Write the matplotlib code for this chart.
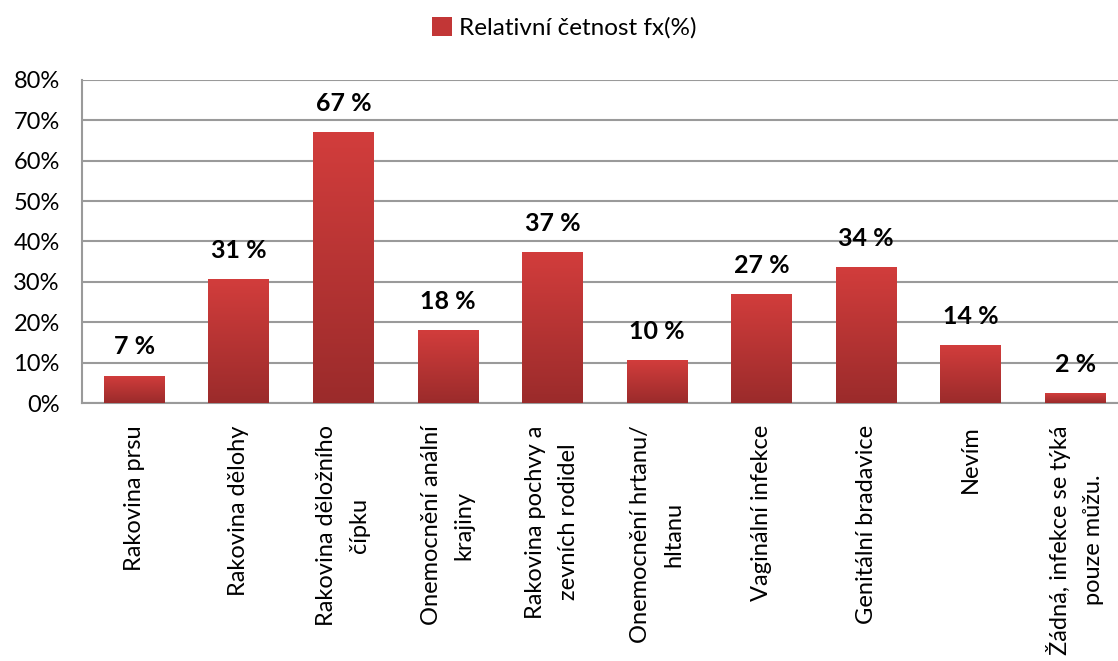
import numpy as np
import matplotlib.pyplot as plt
from matplotlib.colors import LinearSegmentedColormap
from matplotlib.patches import Patch
from matplotlib.ticker import FuncFormatter

plt.rcParams['font.family'] = ['Lato', 'DejaVu Sans']

categories = ['Rakovina prsu', 'Rakovina dělohy', 'Rakovina děložního\nčípku',
              'Onemocnění anální\nkrajiny', 'Rakovina pochvy a\nzevních rodidel',
              'Onemocnění hrtanu/\nhltanu', 'Vaginální infekce', 'Genitální bradavice',
              'Nevím', 'Žádná, infekce se týká\npouze můžu.']
values = [6.8, 30.7, 67.1, 18.0, 37.4, 10.6, 27.0, 33.7, 14.3, 2.4]
labels = ['7 %', '31 %', '67 %', '18 %', '37 %', '10 %', '27 %', '34 %', '14 %', '2 %']

fig = plt.figure(figsize=(11.18, 6.61), dpi=100)
ax = fig.add_axes([82/1118, 258/661, 1036/1118, 323/661])

x = np.arange(len(values))
w = 0.58
cmap = LinearSegmentedColormap.from_list('r', ['#9b2b2b', '#d23d3c'])
grad = np.linspace(0, 1, 256).reshape(-1, 1)
bars = ax.bar(x, values, w, color='none', edgecolor='none', zorder=3)
for b in bars:
    x0, y0 = b.get_x(), b.get_y()
    im = ax.imshow(grad, cmap=cmap, origin='lower', aspect='auto', zorder=3,
                   extent=[x0, x0 + b.get_width(), y0, y0 + b.get_height()])
    im.set_clip_path(b)

for xi, v, t in zip(x, values, labels):
    ax.text(xi, v + 4.3, t, ha='center', va='bottom', fontsize=18, fontweight='bold')

ax.set_xlim(-0.5, 9.41)
ax.set_ylim(0, 80)
ax.set_yticks(np.arange(0, 81, 10))
ax.yaxis.set_major_formatter(FuncFormatter(lambda v, p: f'{v:.0f}%'))
ax.grid(axis='y', color='#9a9a9a', linewidth=1.5, zorder=0)
for s in ['top', 'right']:
    ax.spines[s].set_visible(False)
ax.spines['left'].set_color('#9a9a9a')
ax.spines['left'].set_linewidth(1.5)
ax.spines['bottom'].set_color('#9a9a9a')
ax.spines['bottom'].set_linewidth(1.5)
ax.tick_params(axis='y', length=0, labelsize=17, pad=16)
ax.tick_params(axis='x', length=0, pad=16)
ax.set_xticks(x)
ax.set_xticklabels(categories)
for t in ax.get_xticklabels():
    t.set_rotation(90)
    t.set_fontsize(17)
    t.set_ha('center')
    t.set_va('top')
    t.set_multialignment('center')
    t.set_linespacing(1.7)

leg_handle = Patch(facecolor='#c23636', label='Relativní četnost fx(%)')
fig.legend(handles=[leg_handle], loc='center', bbox_to_anchor=(0.505, 1 - 28/661),
           frameon=False, fontsize=17.5, handlelength=0.8, handleheight=0.8,
           handletextpad=0.3)

fig.savefig('out.png', dpi=100)
